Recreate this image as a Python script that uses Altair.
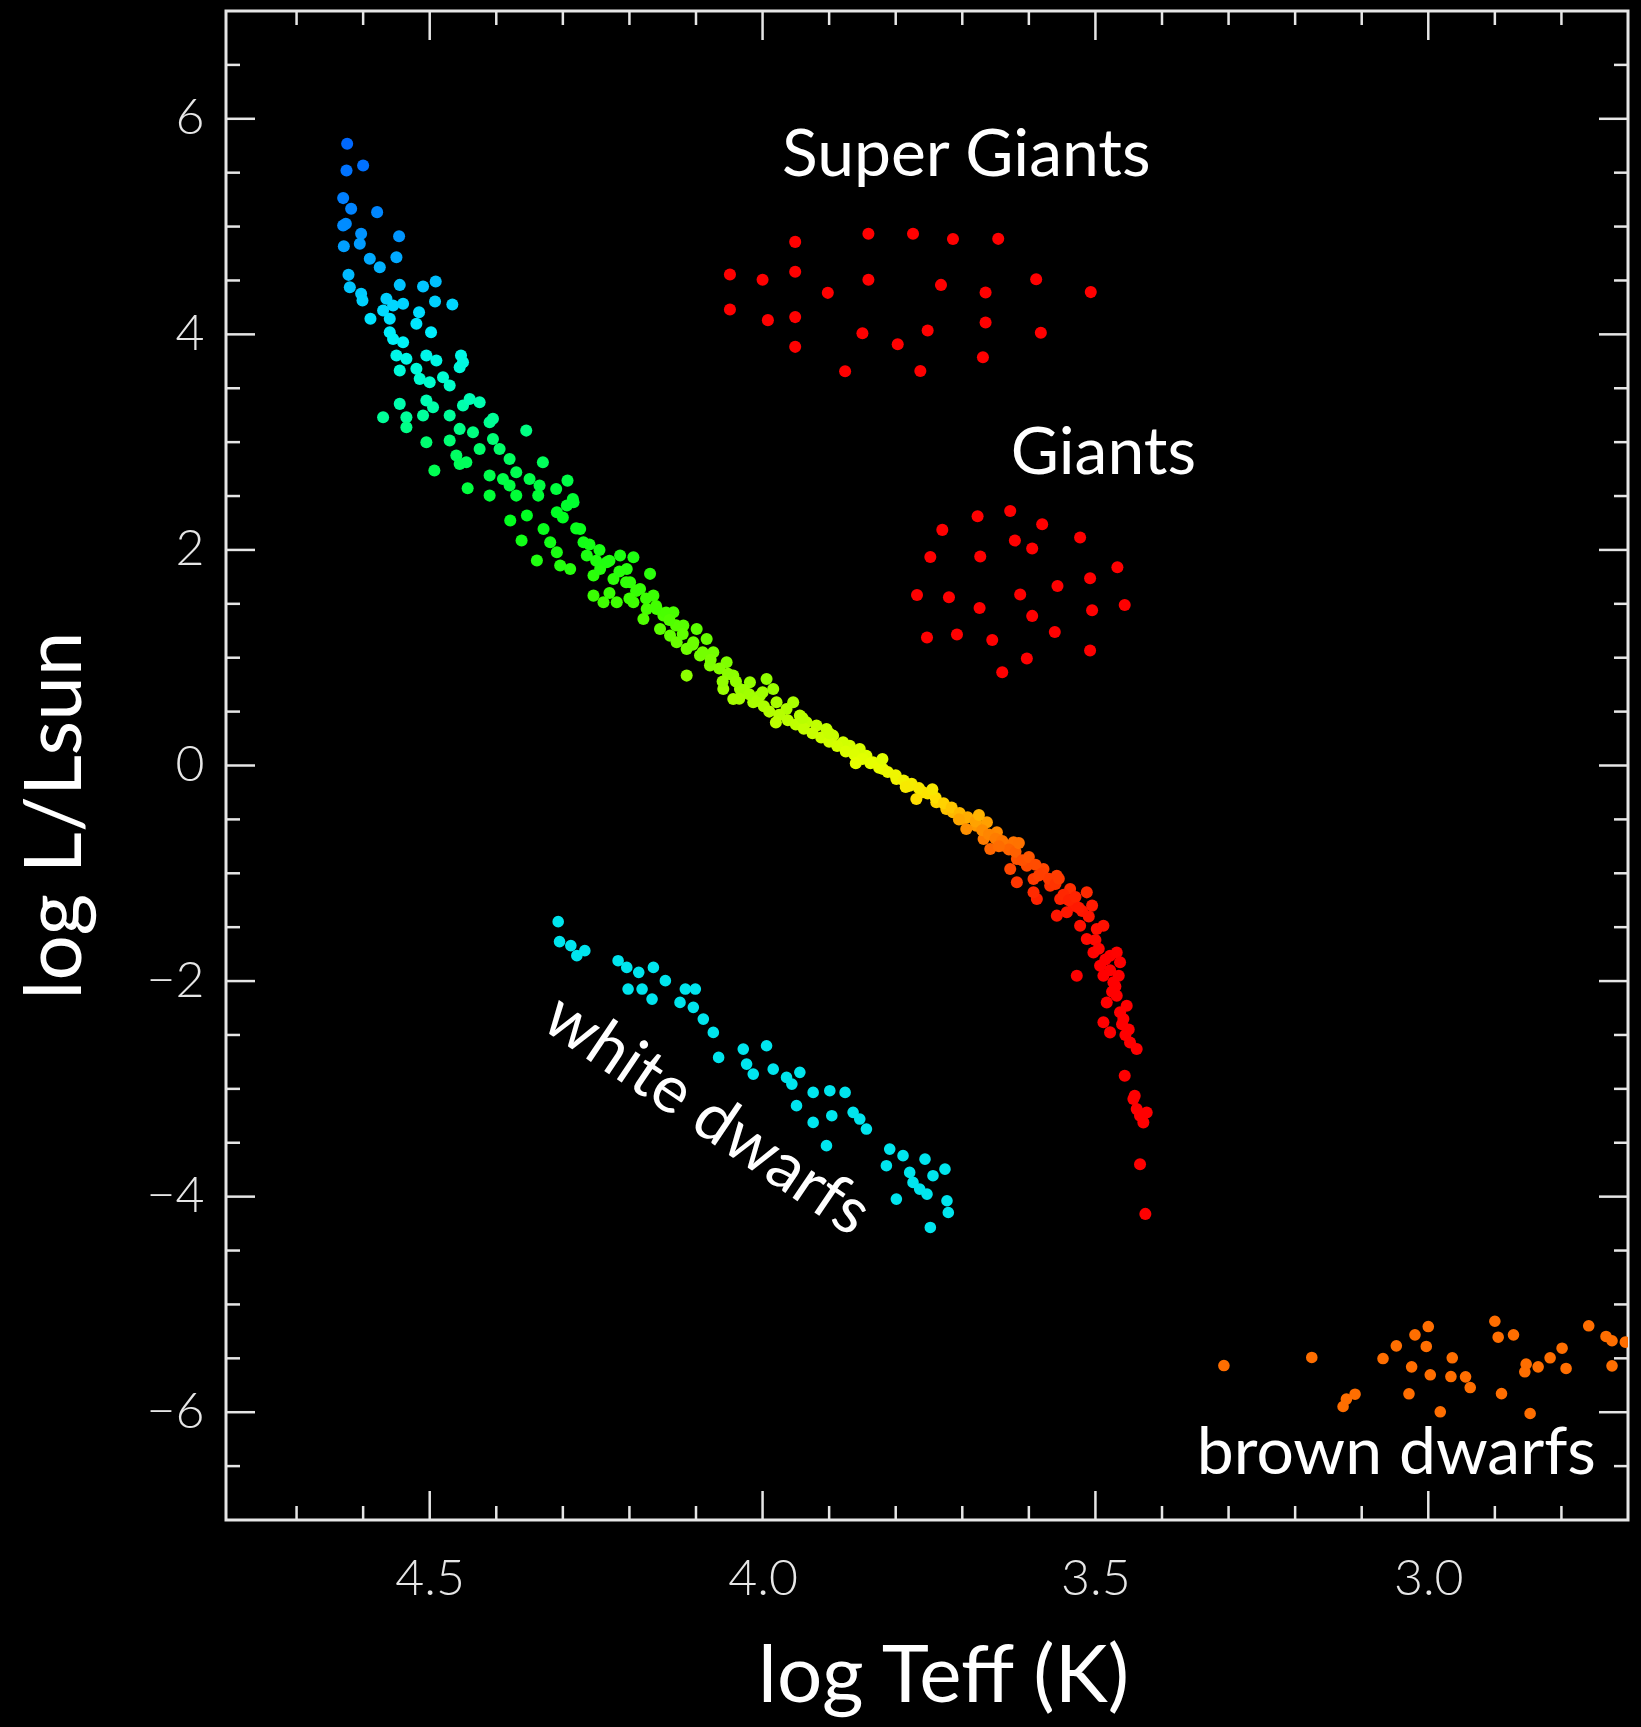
import altair as alt
import pandas as pd

# ---------------- data ----------------
ms_logt = [
    4.624, 4.625, 4.600, 4.630, 4.618, 4.579, 4.626, 4.630, 4.603, 4.546, 4.605, 4.629, 4.550, 4.590, 4.575,
    4.622, 4.620, 4.603, 4.601, 4.589, 4.545, 4.510, 4.491, 4.565, 4.555, 4.540, 4.492, 4.466, 4.516, 4.570,
    4.560, 4.520, 4.498, 4.560, 4.555, 4.540, 4.550, 4.535, 4.505, 4.490, 4.453, 4.450, 4.455, 4.545, 4.520,
    4.515, 4.500, 4.480, 4.470, 4.545, 4.570, 4.535, 4.535, 4.505, 4.495, 4.510, 4.470, 4.450, 4.440, 4.425,
    4.410, 4.405, 4.455, 4.435, 4.425, 4.405, 4.395, 4.505, 4.470, 4.460, 4.455, 4.445, 4.493, 4.355, 4.330,
    4.380, 4.370, 4.410, 4.390, 4.380, 4.350, 4.335, 4.293, 4.310, 4.443, 4.410, 4.370, 4.337, 4.285,
    4.379, 4.362, 4.339, 4.354, 4.329, 4.309, 4.294, 4.284, 4.319, 4.309, 4.304, 4.289, 4.274, 4.269, 4.264,
    4.254, 4.244, 4.254, 4.239, 4.219, 4.214, 4.194, 4.204, 4.169, 4.199, 4.184, 4.164, 4.174, 4.149, 4.134,
    4.154, 4.139, 4.119, 4.099, 4.114, 4.084, 4.094, 4.074, 4.114, 4.054, 4.044, 4.059, 4.044, 4.019, 3.994,
    4.004, 3.979, 3.964, 3.944, 3.919, 3.894, 3.869, 3.844, 3.819, 3.799,
    4.234, 4.224, 4.194, 4.179, 4.159, 4.129, 4.104, 4.079, 4.034, 4.014, 3.984, 3.954, 3.934, 3.904, 3.879,
    3.854, 3.834,
    3.779, 3.759, 3.739, 3.724, 3.714, 3.699, 3.679, 3.663, 3.668, 3.648, 3.638, 3.623, 3.618, 3.628, 3.618,
    3.603, 3.593, 3.588, 3.578, 3.568, 3.558, 3.553, 3.558, 3.538, 3.533, 3.513, 3.523, 3.513, 3.498, 3.488,
    3.528, 3.503, 3.493, 3.478, 3.468, 3.463, 3.488, 3.473, 3.468, 3.483, 3.453, 3.463, 3.488, 3.458, 3.478,
    3.448, 3.438, 3.456, 3.443, 3.433, 3.423, 3.438, 3.428, 3.441, 3.433, 3.425,
    3.769, 3.694, 3.658, 3.593, 3.543,
    4.130, 4.120, 4.105, 4.090, 4.078, 4.065, 4.052, 4.040, 4.028, 4.020, 4.008, 3.998, 3.990, 3.975, 3.962,
    3.950, 3.938, 3.925, 3.912, 3.900, 3.888, 3.875, 3.862, 3.850, 3.838, 3.825, 3.812, 3.800, 3.788, 3.776,
    3.765, 3.752, 3.740, 3.728, 3.716, 3.704, 3.692, 3.680, 3.670, 3.660, 3.650, 3.640, 3.630, 3.620, 3.610,
    3.600, 3.590, 3.580, 3.570, 3.560, 3.548, 3.540, 3.530, 3.520, 3.510, 3.500, 3.495, 3.485, 3.478, 3.470,
    3.465, 3.475, 3.460, 3.455, 3.450,
    4.300, 4.280, 4.260, 4.245, 4.230, 4.215, 4.205, 4.190, 4.175, 4.160, 4.145, 4.140, 4.250, 4.230, 4.200,
    4.060, 4.035, 4.000, 3.980, 3.940, 3.900, 3.860, 3.820, 3.785, 3.745, 3.705, 3.675, 3.645, 3.615, 3.585,
    3.555, 3.525, 3.505,
]
ms_logl = [
    5.768, 5.521, 5.567, 5.264, 5.165, 5.134, 5.026, 5.010, 4.933, 4.911, 4.840, 4.818, 4.716, 4.701, 4.623,
    4.552, 4.438, 4.376, 4.314, 4.144, 4.459, 4.444, 4.490, 4.330, 4.268, 4.283, 4.305, 4.277, 4.206, 4.221,
    4.144, 4.098, 4.020, 4.020, 3.958, 3.927, 3.804, 3.773, 3.804, 3.757, 3.804, 3.742, 3.695, 3.664, 3.680,
    3.587, 3.556, 3.602, 3.525, 3.355, 3.231, 3.231, 3.138, 3.386, 3.324, 3.247, 3.247, 3.339, 3.401, 3.370,
    3.185, 3.216, 3.123, 3.092, 2.937, 3.030, 2.937, 2.999, 3.015, 2.875, 2.798, 2.814, 2.736, 3.107, 2.814,
    2.844, 2.721, 2.690, 2.659, 2.597, 2.659, 2.597, 2.643, 2.566, 2.572, 2.504, 2.504, 2.504, 2.473,
    2.273, 2.087, 1.901, 2.319, 2.195, 2.350, 2.412, 2.443, 2.071, 1.979, 1.855, 1.824, 2.195, 2.071, 1.948,
    1.762, 1.824, 1.576, 1.515, 1.515, 1.948, 1.932, 1.824, 1.778, 1.700, 1.638, 1.576, 1.453, 1.391, 1.422,
    1.267, 1.205, 1.298, 1.267, 1.082, 1.174, 1.020, 1.051, 0.834, 0.958, 0.834, 0.710, 0.617, 0.772, 0.803,
    0.648, 0.586, 0.525, 0.463, 0.370, 0.277, 0.184, 0.091, -0.032, -0.125,
    1.886, 1.731, 1.515, 1.360, 1.453, 1.143, 1.143, 0.927, 0.710, 0.586, 0.710, 0.586, 0.401, 0.339, 0.215,
    0.153, 0.030,
    -0.187, -0.249, -0.341, -0.403, -0.434, -0.496, -0.558, -0.527, -0.682, -0.620, -0.744, -0.713, -0.867, -0.960, -1.084,
    -0.929, -1.053, -1.239, -0.960, -1.115, -1.022, -1.239, -1.393, -1.146, -1.300, -1.177, -1.486, -1.610, -1.517, -1.486,
    -1.950, -1.734, -1.857, -1.765, -1.734, -1.826, -1.950, -2.012, -2.136, -2.198, -2.229, -2.290, -2.383, -2.352, -2.476,
    -2.569, -2.631, -2.878, -3.095, -3.250, -3.219, -3.188, -3.311, -3.064, -3.700, -4.160,
    -0.310, -0.589, -0.775, -1.177, -1.362,
    1.30, 1.22, 1.12, 1.05, 0.98, 0.90, 0.85, 0.78, 0.70, 0.66, 0.60, 0.55, 0.50, 0.47, 0.42,
    0.38, 0.34, 0.30, 0.26, 0.22, 0.18, 0.13, 0.10, 0.06, 0.02, -0.02, -0.06, -0.09, -0.14, -0.17,
    -0.21, -0.26, -0.30, -0.35, -0.39, -0.44, -0.48, -0.52, -0.60, -0.64, -0.68, -0.70, -0.78, -0.80, -0.88,
    -0.85, -0.92, -1.00, -1.05, -1.10, -1.20, -1.25, -1.22, -1.35, -1.40, -1.62, -1.70, -1.80, -1.90, -2.05,
    -1.95, -2.10, -2.40, -2.50, -2.45,
    2.30, 2.20, 2.05, 2.00, 1.90, 1.80, 1.70, 1.62, 1.55, 1.48, 1.42, 1.35, 1.90, 1.60, 1.55,
    0.78, 0.62, 0.68, 0.40, 0.44, 0.30, 0.02, 0.06, -0.20, -0.22, -0.50, -0.46, -0.75, -0.72, -1.02,
    -1.05, -1.32, -1.30,
]

wd_logt = [
    4.307, 4.305, 4.288, 4.279, 4.267, 4.217, 4.204, 4.186, 4.164, 4.202, 4.181, 4.166, 4.146, 4.116, 4.124,
    4.101, 4.104, 4.089, 4.074, 4.066, 4.029, 3.994, 4.024, 4.014, 3.984, 3.964, 3.944, 3.956, 3.949, 3.924,
    3.899, 3.876, 3.924, 3.896, 3.864, 3.844, 3.904, 3.854, 3.809, 3.789, 3.814, 3.779, 3.756, 3.744, 3.726,
    3.799, 3.764, 3.753, 3.723, 3.721, 3.748, 3.774,
]
wd_logl = [
    -1.449, -1.634, -1.671, -1.764, -1.718, -1.811, -1.873, -1.919, -1.873, -2.074, -2.074, -2.167, -1.996, -2.074, -2.198,
    -2.074, -2.244, -2.353, -2.476, -2.708, -2.631, -2.600, -2.770, -2.863, -2.817, -2.894, -2.847, -2.956, -3.156, -3.033,
    -3.017, -3.033, -3.311, -3.249, -3.218, -3.373, -3.527, -3.280, -3.559, -3.620, -3.713, -3.775, -3.652, -3.806, -3.745,
    -4.023, -3.930, -3.977, -4.038, -4.147, -4.286, -3.868,
]

sg_logt = [
    4.049, 4.049, 4.000, 3.992, 3.951, 3.951, 3.951, 3.951, 3.902, 3.841, 3.841, 3.850, 3.876, 3.774, 3.797,
    3.752, 3.763, 3.732, 3.714, 3.665, 3.665, 3.669, 3.646, 3.589, 3.582, 3.507,
]
sg_logl = [
    4.556, 4.231, 4.506, 4.132, 4.858, 4.580, 4.160, 3.884, 4.385, 4.933, 4.506, 4.011, 3.658, 4.933, 3.909,
    4.036, 3.661, 4.459, 4.884, 4.389, 4.110, 3.788, 4.886, 4.512, 4.014, 4.392,
]

g_logt = [
    3.677, 3.628, 3.730, 3.580, 3.621, 3.595, 3.523, 3.748, 3.673, 3.467, 3.508, 3.557, 3.768, 3.720, 3.613,
    3.456, 3.505, 3.674, 3.595, 3.561, 3.753, 3.708, 3.655, 3.508, 3.603, 3.640,
]
g_logl = [
    2.313, 2.362, 2.186, 2.239, 2.087, 2.013, 2.115, 1.935, 1.939, 1.839, 1.737, 1.666, 1.582, 1.561, 1.586,
    1.490, 1.440, 1.462, 1.388, 1.239, 1.187, 1.215, 1.165, 1.066, 0.992, 0.865,
]

bd_logt = [
    3.307, 3.175, 3.128, 3.123, 3.110, 3.068, 3.048, 3.020, 3.000, 3.003, 3.025, 2.997, 3.029, 2.982, 2.964,
    2.966, 2.944, 2.937, 2.900, 2.895, 2.872, 2.890, 2.853, 2.855, 2.835, 2.817, 2.799, 2.793, 2.847, 2.759,
    2.733, 2.724, 2.724, 2.704,
]
bd_logl = [
    -5.567, -5.492, -5.947, -5.879, -5.833, -5.502, -5.384, -5.282, -5.205, -5.390, -5.579, -5.653, -5.829, -5.996, -5.495,
    -5.669, -5.672, -5.771, -5.156, -5.304, -5.282, -5.827, -5.554, -5.625, -5.579, -5.495, -5.406, -5.594, -6.012, -5.198,
    -5.297, -5.337, -5.570, -5.350,
]

label_text = ["Super Giants", "Giants", "brown dwarfs"]
label_logt = [3.694, 3.488, 3.048]
label_logl = [5.468, 2.708, -6.569]
wd_label_text = ["white dwarfs"]
wd_label_logt = [4.084]
wd_label_logl = [-3.249]

x_major = [4.5, 4.0, 3.5, 3.0]
x_minor = [4.7, 4.6, 4.4, 4.3, 4.2, 4.1, 3.9, 3.8, 3.7, 3.6, 3.4, 3.3, 3.2, 3.1, 2.9, 2.8]
y_major = [-6, -4, -2, 0, 2, 4, 6]
y_minor = [-6.5, -5.5, -5, -4.5, -3.5, -3, -2.5, -1.5, -1, -0.5, 0.5, 1, 1.5, 2.5, 3, 3.5, 4.5, 5, 5.5, 6.5]

# ---------------- layout / style ----------------
W, H = 1402, 1509
MAJ, MIN = 29, 14
FRAME = "#e6e6e6"
FONT = "Lato"

xscale = alt.Scale(domain=[2.70, 4.806], reverse=True, nice=False, zero=False)
yscale = alt.Scale(domain=[-7, 7], nice=False, zero=False)

xaxis = alt.Axis(
    values=x_major, format=".1f", ticks=False, tickSize=0, domain=False, grid=False,
    labelFont=FONT, labelFontSize=50, labelFontWeight=300, labelColor=FRAME, labelPadding=34,
    labelFlush=False, labelOverlap=False,
    title="log Teff (K)", titleFont=FONT, titleFontSize=80, titleFontWeight="normal", titleColor="white",
    titleX=717, titleY=181, titleBaseline="alphabetic", titleAlign="center",
)
yaxis = alt.Axis(
    values=y_major, format="d", ticks=False, tickSize=0, domain=False, grid=False,
    labelFont=FONT, labelFontSize=50, labelFontWeight=300, labelColor=FRAME, labelPadding=22,
    labelFlush=False, labelOverlap=False,
    title="log L/Lsun", titleFont=FONT, titleFontSize=80, titleFontWeight="normal", titleColor="white",
    titleAngle=270, titleX=-146, titleY=804, titleBaseline="alphabetic", titleAlign="center",
)

X = alt.X("logt:Q", scale=xscale, axis=xaxis)
Y = alt.Y("logl:Q", scale=yscale, axis=yaxis)

ms_df = pd.DataFrame({"logt": ms_logt, "logl": ms_logl})
wd_df = pd.DataFrame({"logt": wd_logt, "logl": wd_logl})
sg_df = pd.DataFrame({"logt": sg_logt + g_logt, "logl": sg_logl + g_logl})
bd_df = pd.DataFrame({"logt": bd_logt, "logl": bd_logl})
lab_df = pd.DataFrame({"logt": label_logt, "logl": label_logl, "label": label_text})
wdlab_df = pd.DataFrame({"logt": wd_label_logt, "logl": wd_label_logl, "label": wd_label_text})

cdom = [-1.8, -1.3, -0.85, -0.55, -0.3, 0.0, 0.6, 1.5, 2.3, 3.0, 3.5, 4.0, 4.5, 5.0, 5.8]
crange = ["#ff0000", "#ff1a00", "#ff5500", "#ff9900", "#ffe000", "#e8ff00", "#a8ff00", "#40ff00",
          "#00ff20", "#00ff70", "#00ffc8", "#00f0ff", "#00bfff", "#008cff", "#0066ff"]

ms = alt.Chart(ms_df).mark_circle(size=145, opacity=1, clip=True).encode(
    x=X, y=Y,
    color=alt.Color("logl:Q", scale=alt.Scale(domain=cdom, range=crange, interpolate="rgb"), legend=None),
)
wd = alt.Chart(wd_df).mark_circle(size=135, opacity=1, clip=True, color="#00e5ee").encode(x=X, y=Y)
gi = alt.Chart(sg_df).mark_circle(size=145, opacity=1, clip=True, color="#ff0000").encode(x=X, y=Y)
bd = alt.Chart(bd_df).mark_circle(size=135, opacity=1, clip=True, color="#ff6e00").encode(x=X, y=Y)

labels = alt.Chart(lab_df).mark_text(
    font=FONT, fontSize=66, color="white", align="center", baseline="alphabetic"
).encode(x=X, y=Y, text="label:N")
wdlabel = alt.Chart(wdlab_df).mark_text(
    font=FONT, fontSize=66, color="white", align="center", baseline="middle", angle=34
).encode(x=X, y=Y, text="label:N")

# inward ticks on all four sides
xmaj_df = pd.DataFrame({"logt": x_major})
xmin_df = pd.DataFrame({"logt": x_minor})
ymaj_df = pd.DataFrame({"logl": y_major})
ymin_df = pd.DataFrame({"logl": y_minor})


def xticks(df, length):
    bottom = alt.Chart(df).mark_rule(color=FRAME, strokeWidth=2.5).encode(
        x=X, y=alt.value(H), y2=alt.value(H - length))
    top = alt.Chart(df).mark_rule(color=FRAME, strokeWidth=2.5).encode(
        x=X, y=alt.value(0), y2=alt.value(length))
    return bottom + top


def yticks(df, length):
    left = alt.Chart(df).mark_rule(color=FRAME, strokeWidth=2.5).encode(
        y=Y, x=alt.value(0), x2=alt.value(length))
    right = alt.Chart(df).mark_rule(color=FRAME, strokeWidth=2.5).encode(
        y=Y, x=alt.value(W), x2=alt.value(W - length))
    return left + right


chart = alt.layer(
    ms, wd, gi, bd, labels, wdlabel,
    xticks(xmaj_df, MAJ), xticks(xmin_df, MIN),
    yticks(ymaj_df, MAJ), yticks(ymin_df, MIN),
).properties(
    width=W, height=H,
    padding={"left": 226, "top": 11, "right": 13, "bottom": 207},
    autosize=alt.AutoSizeParams(type="none"),
    background="black",
).configure_view(
    stroke=FRAME, strokeWidth=3,
)

chart.save("out.html", embed_options={"renderer": "svg", "actions": False})
